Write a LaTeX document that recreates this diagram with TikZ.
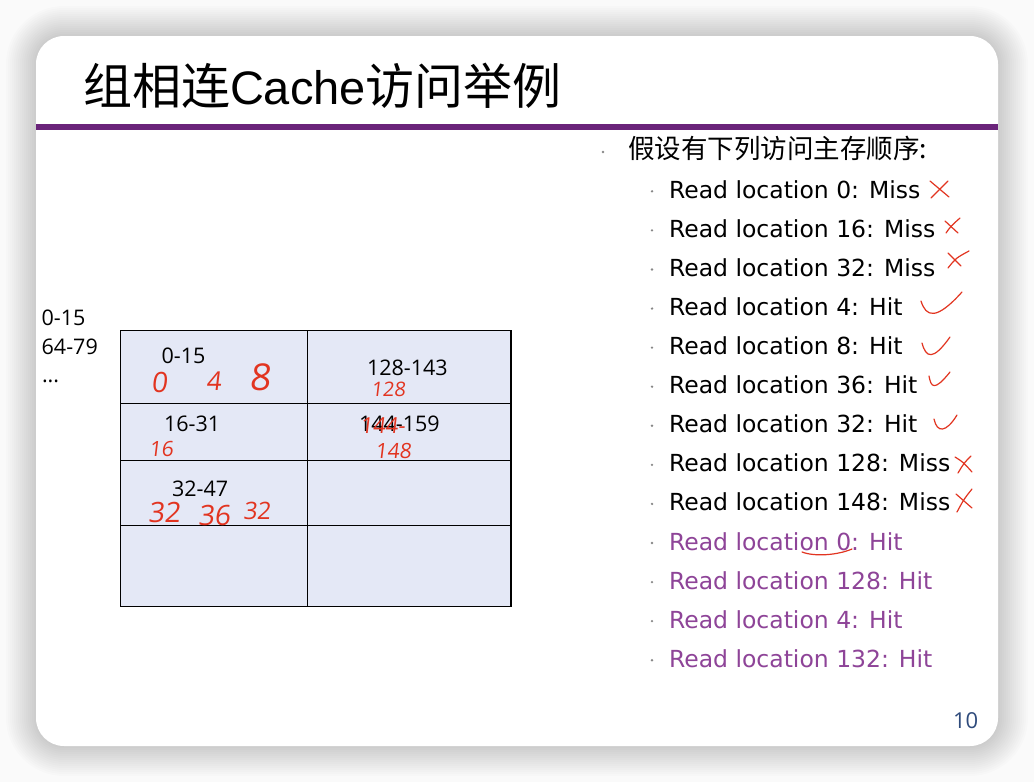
\documentclass[tikz,border=0pt]{standalone}
\usepackage{fontspec}
\setmainfont{DejaVu Sans}
\newfontfamily\cjkfont{Noto Sans CJK SC}
\newfontfamily\labelfont{Open Sans}
\newfontfamily\titlefont{Liberation Sans}
\newfontfamily\inkfont[FakeSlant=0.12]{Open Sans}
\newcommand\setpx[1]{\fontsize{#1}{#1}\selectfont}

\definecolor{pagebg}{RGB}{250,250,250}
\definecolor{barpurple}{RGB}{106,36,122}
\definecolor{listpurple}{RGB}{142,68,152}
\definecolor{cellfill}{RGB}{228,232,246}
\definecolor{ink}{RGB}{226,52,32}
\definecolor{bulletgray}{RGB}{135,135,135}
\definecolor{pagenum}{RGB}{47,75,124}

\tikzset{
  txt/.style={inner sep=0pt, outer sep=0pt, anchor=base west},
  cell/.style={fill=cellfill, draw=black, line width=1.1pt},
  inkline/.style={draw=ink, line width=1.2pt, line cap=round, line join=round},
  inktext/.style={txt, text=ink, font=\inkfont},
}

\begin{document}
\begin{tikzpicture}[x=1pt, y=-1pt]
\useasboundingbox (0,0) rectangle (1034,782);
\fill[pagebg] (0,0) rectangle (1034,782);

% soft shadow around the slide
\foreach \i in {1,...,15}
  \fill[black, opacity=0.012, rounded corners={(28+2*\i)*1pt}]
    ({36-2*\i},{36-2*\i}) rectangle ({998+2*\i},{746+2*\i});

% slide
\fill[white, rounded corners=28pt] (36,36) rectangle (998,746);
\fill[barpurple] (36,124) rectangle (998,130);

% title
\node[txt] (title) at (83,104)
  {\setpx{49}\cjkfont 组相连{\titlefont\setpx{47}Cache}访问举例};

% main-memory block groups
\node[txt, font=\labelfont\setpx{21.5}] (m0) at (41.7,325.7) {0-15};
\node[txt, font=\labelfont\setpx{21.5}] (m1) at (41.7,354.3) {64-79};
\node[txt, font=\labelfont\setpx{21.5}] (m2) at (42,382) {...};

% cache: 4 sets x 2 ways
\draw[cell] (120.7,330.7) rectangle (307.3,403.7);
\draw[cell] (307.3,330.7) rectangle (511,403.7);
\draw[cell] (120.7,403.7) rectangle (307.3,460.3);
\draw[cell] (307.3,403.7) rectangle (511,460.3);
\draw[cell] (120.7,460.3) rectangle (307.3,525.7);
\draw[cell] (307.3,460.3) rectangle (511,525.7);
\draw[cell] (120.7,525.7) rectangle (307.3,606.7);
\draw[cell] (307.3,525.7) rectangle (511,606.7);

\node[txt, font=\labelfont\setpx{21.5}] (c00) at (161.7,363.3) {0-15};
\node[txt, font=\labelfont\setpx{21.5}] (c01) at (367,375) {128-143};
\node[txt, font=\labelfont\setpx{21.5}] (c10) at (164,431.7) {16-31};
\node[txt, font=\labelfont\setpx{21.5}] (c11) at (359,431.7) {144-159};
\node[txt, font=\labelfont\setpx{21.5}] (c20) at (172,496.7) {32-47};

% handwritten addresses
\node[inktext, font=\inkfont\setpx{28}] (h0) at (151,392) {0};
\node[inktext, font=\inkfont\setpx{26}] (h4) at (206,390) {4};
\node[inktext, font=\inkfont\setpx{37}] (h8) at (249,390) {8};
\node[inktext, font=\inkfont\setpx{20}] (h128) at (371,396) {128};
\node[inktext, font=\inkfont\setpx{22}] (h144) at (360,433) {144-};
\node[inktext, font=\inkfont\setpx{21}] (h148) at (375,458) {148};
\node[inktext, font=\inkfont\setpx{21}] (h16) at (149,456) {16};
\node[inktext, font=\inkfont\setpx{28}] (h32a) at (148,522) {32};
\node[inktext, font=\inkfont\setpx{28}] (h36) at (198,525) {36};
\node[inktext, font=\inkfont\setpx{24}] (h32b) at (243,519) {32};

% access sequence
\fill[bulletgray] (603,152) circle (1.3);
\node[txt, font=\cjkfont\setpx{26.5}] (head) at (628,158) {假设有下列访问主存顺序:};

\foreach \t/\c [count=\i from 0] in {
    {Read location 0: Miss}/black,
    {Read location 16: Miss}/black,
    {Read location 32: Miss}/black,
    {Read location 4: Hit}/black,
    {Read location 8: Hit}/black,
    {Read location 36: Hit}/black,
    {Read location 32: Hit}/black,
    {Read location 128: Miss}/black,
    {Read location 148: Miss}/black,
    {Read location 0: Hit}/listpurple,
    {Read location 128: Hit}/listpurple,
    {Read location 4: Hit}/listpurple,
    {Read location 132: Hit}/listpurple} {
  \fill[bulletgray] (652,{198.3+39.08*\i-7}) circle (1.3);
  \node[txt, text=\c, font=\setpx{23.5}] (r\i) at (669,{198.3+39.08*\i}) {\t};
}

% misses and hits marked by hand
\draw[inkline] (930,181) -- (949,197);
\draw[inkline] (931,198) -- (948,181);
\draw[inkline] (945,221) -- (958,233);
\draw[inkline] (946,233) .. controls (951,226) .. (960,218);
\draw[inkline] (948,253) -- (961,266);
\draw[inkline] (948,268) .. controls (956,258) .. (969,251);
\draw[inkline] (921,301) .. controls (926,317) and (936,321) .. (962,292);
\draw[inkline] (922,343) .. controls (926,358) and (933,361) .. (950,337);
\draw[inkline] (929,376) .. controls (931,387) and (934,392) .. (950,372);
\draw[inkline] (934,419) .. controls (937,433) and (946,433) .. (957,415);
\draw[inkline] (955,457) .. controls (963,462) .. (972,472);
\draw[inkline] (971,456) .. controls (964,463) .. (958,473);
\draw[inkline] (956,494) -- (972,508);
\draw[inkline] (972,489) .. controls (964,499) .. (957,512);
\draw[inkline] (802,552) .. controls (815,557) and (838,555) .. (852,549);

% page number
\node[txt, text=pagenum, font=\labelfont\setpx{22}] (page) at (953,728) {10};
\end{tikzpicture}
\end{document}
